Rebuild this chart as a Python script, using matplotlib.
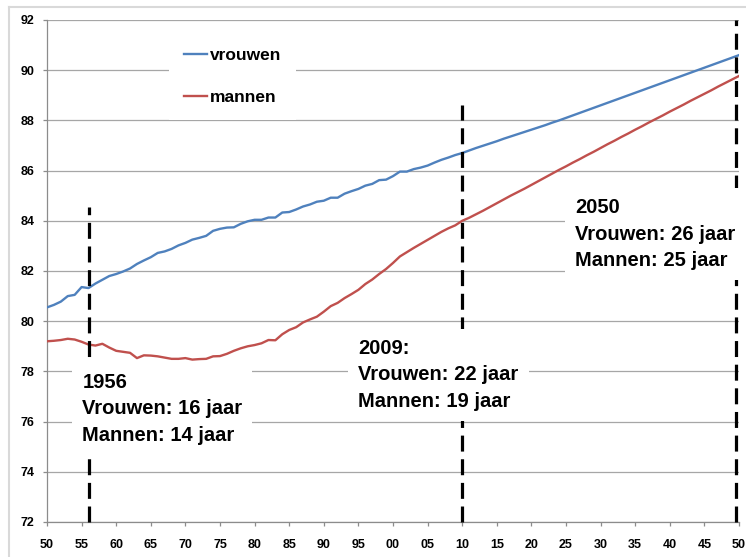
import numpy as np
import matplotlib.pyplot as plt
from matplotlib.lines import Line2D

plt.rcParams['font.family'] = ['Liberation Sans', 'DejaVu Sans']

years = np.arange(1950, 2051)

# levensverwachting op 65 (leeftijd + resterende jaren)
vrouwen = [
    80.55, 80.65, 80.78, 81.00, 81.05, 81.36, 81.32, 81.50, 81.65, 81.80,
    81.88, 81.98, 82.10, 82.28, 82.42, 82.55, 82.72, 82.78, 82.88, 83.02,
    83.12, 83.25, 83.32, 83.40, 83.60, 83.68, 83.73, 83.74, 83.88, 83.98,
    84.04, 84.04, 84.13, 84.13, 84.33, 84.35, 84.45, 84.57, 84.65, 84.76,
    84.80, 84.92, 84.92, 85.08, 85.18, 85.27, 85.40, 85.47, 85.62, 85.64,
    85.78, 85.96, 85.96, 86.06, 86.12, 86.20, 86.32, 86.43, 86.52, 86.62,
    86.70, 86.80, 86.90, 86.99, 87.08, 87.17, 87.27, 87.36, 87.45, 87.54,
    87.63, 87.72, 87.81, 87.91, 88.00, 88.10, 88.20, 88.30, 88.40, 88.50,
    88.60, 88.70, 88.80, 88.90, 89.00, 89.10, 89.20, 89.30, 89.40, 89.50,
    89.60, 89.70, 89.80, 89.90, 90.00, 90.10, 90.20, 90.30, 90.40, 90.50,
    90.60,
]
mannen = [
    79.20, 79.22, 79.25, 79.30, 79.27, 79.18, 79.07, 79.03, 79.10, 78.95,
    78.82, 78.78, 78.74, 78.53, 78.64, 78.63, 78.60, 78.55, 78.50, 78.50,
    78.53, 78.47, 78.49, 78.50, 78.60, 78.61, 78.70, 78.82, 78.92, 79.00,
    79.05, 79.12, 79.25, 79.24, 79.48, 79.65, 79.76, 79.95, 80.07, 80.18,
    80.38, 80.60, 80.73, 80.92, 81.08, 81.25, 81.48, 81.66, 81.88, 82.08,
    82.32, 82.58, 82.75, 82.92, 83.08, 83.24, 83.40, 83.56, 83.70, 83.82,
    84.00, 84.12, 84.26, 84.40, 84.55, 84.70, 84.85, 85.00, 85.14, 85.28,
    85.43, 85.58, 85.73, 85.88, 86.03, 86.17, 86.32, 86.46, 86.61, 86.75,
    86.90, 87.05, 87.19, 87.34, 87.48, 87.63, 87.77, 87.92, 88.06, 88.20,
    88.35, 88.49, 88.63, 88.78, 88.92, 89.06, 89.20, 89.35, 89.49, 89.63,
    89.77,
]

xticks = np.arange(1950, 2051, 5)
xlabels = ['%02d' % (y % 100) for y in xticks]

# markeringen: jaar, bovenkant van de stippellijn, tekst
mark_years = [1956, 2010, 2049.6]
mark_tops = [84.55, 88.6, 92.0]
notes = [
    '1956\nVrouwen: 16 jaar\nMannen: 14 jaar',
    '2009:\nVrouwen: 22 jaar\nMannen: 19 jaar',
    '2050\nVrouwen: 26 jaar\nMannen: 25 jaar',
]
note_pos = [(1955.1, 77.95), (1995.0, 79.3), (2026.3, 84.9)]

fig = plt.figure(figsize=(7.46, 5.57), dpi=100)
ax = fig.add_axes([47 / 746, 1 - 522 / 557, 692 / 746, 502 / 557])

# outer chart frame
fig.add_artist(Line2D([9 / 746, 9 / 746], [0, 1 - 7 / 557], color='#d9d9d9', lw=1.5))
fig.add_artist(Line2D([9 / 746, 1], [1 - 7 / 557, 1 - 7 / 557], color='#d9d9d9', lw=1.5))

ax.plot(years, vrouwen, color='#4f81bd', lw=1.7, label='vrouwen', zorder=3)
ax.plot(years, mannen, color='#c0504d', lw=1.7, label='mannen', zorder=3)

for x, top in zip(mark_years, mark_tops):
    ax.plot([x, x], [72, top], color='black', lw=2.3, dashes=(5, 2.4),
            zorder=4, clip_on=False, solid_capstyle='butt')

for txt, (x, y) in zip(notes, note_pos):
    ax.text(x, y, txt, ha='left', va='top', fontsize=14.5, fontweight='bold',
            linespacing=1.5, zorder=6,
            bbox=dict(boxstyle='square,pad=0.5', facecolor='white', edgecolor='none'))

ax.set_xlim(1950, 2050)
ax.set_ylim(72, 92)
ax.set_xticks(xticks)
ax.set_xticklabels(xlabels)
ax.set_yticks(np.arange(72, 93, 2))
ax.grid(axis='y', color='#a6a6a6', lw=0.9, zorder=0)
ax.set_axisbelow(True)

for s in ['top', 'right']:
    ax.spines[s].set_visible(False)
for s in ['left', 'bottom']:
    ax.spines[s].set_color('#8c8c8c')
    ax.spines[s].set_linewidth(0.9)

ax.tick_params(axis='both', colors='#8c8c8c', length=3, width=0.9, labelcolor='black')
ax.tick_params(axis='x', pad=9)
ax.tick_params(axis='y', pad=6)
for lab in ax.get_xticklabels() + ax.get_yticklabels():
    lab.set_fontsize(9)
    lab.set_fontweight('bold')

leg = ax.legend(loc='upper left', bbox_to_anchor=(160 / 746, 1 - 24 / 557),
                bbox_transform=fig.transFigure, frameon=True, fancybox=False,
                prop={'size': 12.5, 'weight': 'bold'}, handlelength=1.3,
                handletextpad=0.15, labelspacing=1.5, borderpad=0.9)
leg.get_frame().set_facecolor('white')
leg.get_frame().set_edgecolor('none')
leg.get_frame().set_alpha(1)
leg.set_zorder(6)

plt.savefig('out.png', dpi=100)
